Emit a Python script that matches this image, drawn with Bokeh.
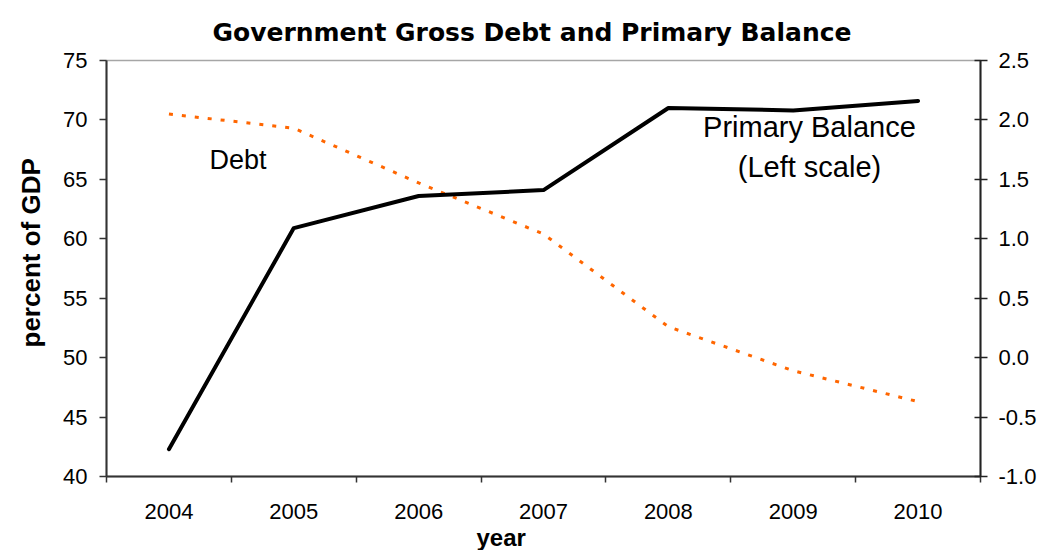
from bokeh.plotting import figure
from bokeh.models import Range1d, LinearAxis, FixedTicker, PrintfTickFormatter, Label, Title
from bokeh.embed import file_html
from bokeh.resources import INLINE

# ---- data ----
years = ["2004", "2005", "2006", "2007", "2008", "2009", "2010"]
debt = [70.5, 69.3, 64.7, 60.4, 52.6, 48.9, 46.3]                 # left scale
primary_balance = [-0.77, 1.09, 1.36, 1.41, 2.10, 2.08, 2.16]     # right scale
left_ticks = [40, 45, 50, 55, 60, 65, 70, 75]
right_ticks = [-1.0, -0.5, 0.0, 0.5, 1.0, 1.5, 2.0, 2.5]

title_text = "Government Gross Debt and Primary Balance"
x_title = "year"
y_title = "percent of GDP"

x = [int(y) for y in years]
boundaries = [x[0] - 0.5 + i for i in range(len(x) + 1)]

FONT = "Liberation Sans"

p = figure(width=1047, height=550, output_backend="svg", toolbar_location=None,
           x_range=Range1d(boundaries[0], boundaries[-1]),
           y_range=Range1d(left_ticks[0], left_ticks[-1]),
           min_border_left=106, min_border_right=67, min_border_top=60,
           min_border_bottom=72)
p.background_fill_color = "white"
p.border_fill_color = "white"
p.xgrid.visible = False
p.ygrid.visible = False
p.outline_line_color = "#a6a6a6"
p.outline_line_width = 1.5

# main title
p.title.text = title_text
p.title.align = "left"
p.title.offset = 106
p.title.standoff = 24
p.title.vertical_align = "top"
p.title.text_line_height = 1.2
p.title.text_font = "DejaVu Sans"
p.title.text_font_style = "bold"
p.title.text_font_size = "25px"
p.title.text_color = "black"

# bottom axis: labels at year centres, tick marks at boundaries (minor ticks)
xa = p.xaxis[0]
xa.ticker = FixedTicker(ticks=x, minor_ticks=boundaries)
xa.major_label_overrides = {xi: yl for xi, yl in zip(x, years)}
xa.major_tick_out = 0
xa.major_tick_in = 0
xa.minor_tick_out = 6
xa.minor_tick_in = 0
xa.minor_tick_line_color = "#333333"
xa.minor_tick_line_width = 1.5
xa.axis_line_color = "#333333"
xa.axis_line_width = 2
xa.major_label_standoff = 21
xa.major_label_text_font = FONT
xa.major_label_text_font_size = "22px"
xa.major_label_text_color = "black"

# left axis
ya = p.yaxis[0]
ya.ticker = FixedTicker(ticks=left_ticks)
ya.major_tick_out = 7
ya.major_tick_in = 0
ya.minor_tick_out = 0
ya.minor_tick_in = 0
ya.major_tick_line_color = "#333333"
ya.major_tick_line_width = 1.5
ya.axis_line_color = "#333333"
ya.axis_line_width = 2
ya.major_label_standoff = 12
ya.major_label_text_font = FONT
ya.major_label_text_font_size = "22px"
ya.major_label_text_color = "black"

# right axis
p.extra_y_ranges = {"pb": Range1d(right_ticks[0], right_ticks[-1])}
ra = LinearAxis(y_range_name="pb", ticker=FixedTicker(ticks=right_ticks),
                formatter=PrintfTickFormatter(format="%.1f"))
ra.major_tick_out = 7
ra.major_tick_in = 6
ra.minor_tick_out = 0
ra.minor_tick_in = 0
ra.major_tick_line_color = "#222222"
ra.major_tick_line_width = 1.5
ra.axis_line_color = "#222222"
ra.axis_line_width = 2
ra.major_label_standoff = 11
ra.major_label_text_font = FONT
ra.major_label_text_font_size = "22px"
ra.major_label_text_color = "black"
p.add_layout(ra, "right")

# axis titles
p.add_layout(Title(text=x_title, align="left", offset=370, standoff=0,
                   text_font=FONT, text_font_style="bold", text_font_size="24px",
                   text_color="black"), "below")
p.add_layout(Title(text=y_title, align="left", offset=129, standoff=26,
                   vertical_align="top", text_line_height=1.2,
                   text_font=FONT, text_font_style="bold", text_font_size="26px",
                   text_color="black"), "left")

# series
p.line(x, debt, line_color="#FF6600", line_width=3, line_dash="4 9")
p.line(x, primary_balance, y_range_name="pb", line_color="black", line_width=4,
       line_join="round", line_cap="round")

# in-plot annotations
p.add_layout(Label(x=2004.325, y=66.63, text="Debt", text_align="left",
                   text_baseline="alphabetic", text_font=FONT,
                   text_font_size="27px", text_color="black"))
p.add_layout(Label(x=2009.13, y=69.39, text="Primary Balance", text_align="center",
                   text_baseline="alphabetic", text_font=FONT,
                   text_font_size="29px", text_color="black"))
p.add_layout(Label(x=2009.13, y=66.04, text="(Left scale)", text_align="center",
                   text_baseline="alphabetic", text_font=FONT,
                   text_font_size="29px", text_color="black"))

open("out.html", "w").write(file_html(p, INLINE))
